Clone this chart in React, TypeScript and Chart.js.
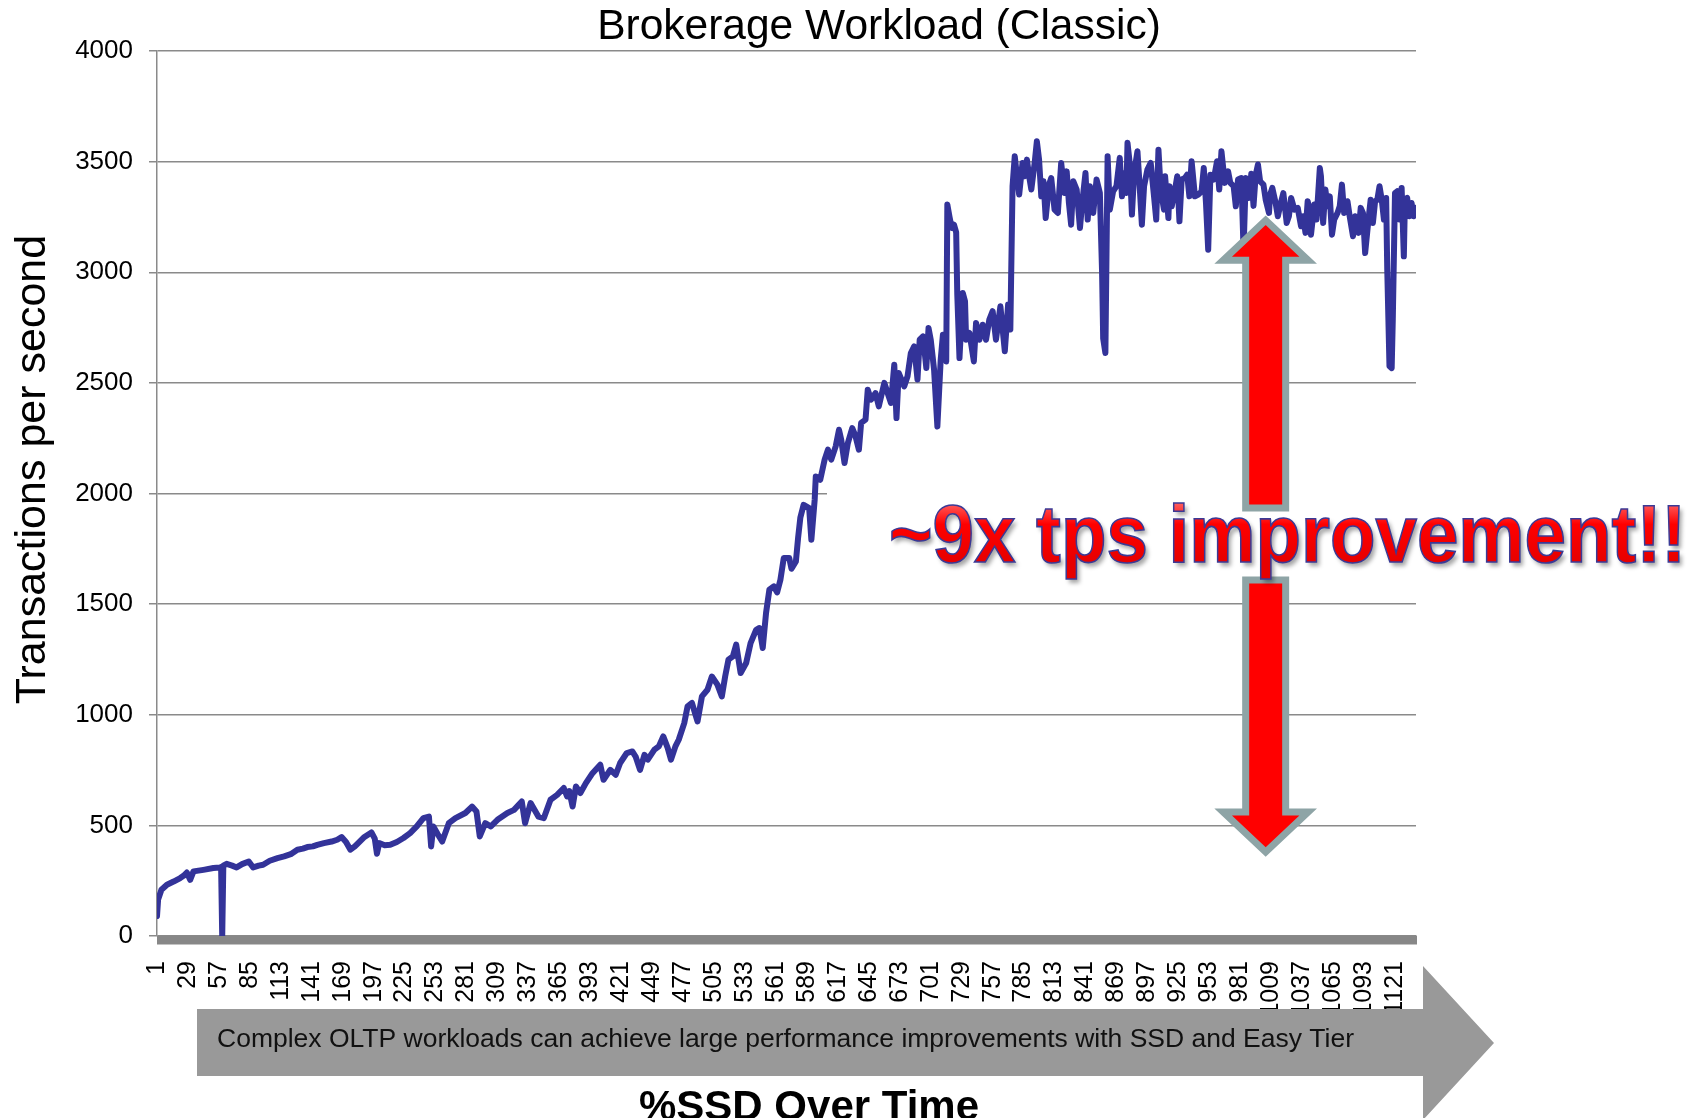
import React, { useEffect, useRef } from "react";
import { Chart, registerables } from "chart.js";

Chart.register(...registerables);

// [sample index, transactions per second]
const rampStart: [number, number][] = [
  [1, 90], [2, 165], [5, 209], [10, 232], [16, 246], [22, 262], [25, 272], [28, 287], [31, 254], [34, 292],
  [43, 299], [52, 307], [58, 310], [59, 312], [60, 0], [61, 318], [64, 326], [69, 318], [73, 310], [78, 325],
  [84, 337], [88, 310], [93, 318], [97, 322], [103, 340], [110, 352], [116, 360], [122, 370], [128, 390], [133, 395],
  [137, 402], [142, 405], [146, 412], [152, 420], [159, 427], [164, 435], [168, 447], [172, 425], [176, 390], [180, 405],
  [183, 420], [188, 445], [195, 468], [198, 440], [200, 372], [202, 420], [207, 410], [212, 412], [218, 425], [224, 443],
  [230, 465],
];

const rampMid: [number, number][] = [
  [236, 495], [242, 533], [247, 540], [249, 405], [251, 495], [255, 460], [259, 427], [265, 510], [271, 533], [280, 556],
  [286, 585], [290, 563], [293, 450], [298, 510], [303, 495], [309, 525], [318, 556], [324, 570], [331, 608], [334, 510],
  [339, 601], [346, 540], [351, 533], [357, 616], [363, 638], [369, 669], [372, 631], [374, 655], [377, 585], [380, 676],
  [384, 646], [389, 691], [395, 736], [402, 774], [405, 706], [411, 751], [416, 729], [420, 782], [426, 827], [431, 834],
  [434, 811], [438, 751],
];

const climb: [number, number][] = [
  [442, 819], [445, 797], [451, 842], [455, 857], [459, 902], [463, 850], [466, 797], [470, 857], [473, 887], [478, 962],
  [481, 1038], [485, 1053], [490, 970], [494, 1083], [499, 1113], [503, 1173], [508, 1136], [512, 1083], [515, 1173], [518, 1249],
  [522, 1264], [525, 1317], [529, 1189], [534, 1234], [538, 1324], [543, 1384], [546, 1392], [549, 1302], [552, 1460], [555, 1565],
  [559, 1580], [562, 1553], [565, 1610], [568, 1708], [573, 1708], [575, 1660], [579, 1693], [581, 1800], [583, 1890], [586, 1949],
  [591, 1934], [593, 1791], [596, 1972], [597, 2077], [601, 2062], [605, 2153], [608, 2198], [611, 2153], [615, 2213], [618, 2288],
  [620, 2243], [623, 2138], [626, 2228], [630, 2296], [633, 2258], [636, 2198], [638, 2319], [642, 2334], [644, 2469], [647, 2424],
  [651, 2454], [654, 2394], [659, 2500], [662, 2454], [665, 2409], [668, 2582], [670, 2341], [672, 2545], [677, 2484], [680, 2530],
  [683, 2635], [686, 2665], [689, 2515], [691, 2695], [694, 2710], [697, 2567], [699, 2748], [701, 2695], [704, 2560], [707, 2303],
  [710, 2605], [712, 2718], [715, 2597],
];

const jump: [number, number][] = [
  [716, 3306], [718, 3250], [720, 3200], [722, 3215], [724, 3180], [725, 2900], [727, 2612], [730, 2906], [732, 2869], [733, 2695],
  [736, 2726], [740, 2597], [742, 2771], [745, 2695], [748, 2763], [751, 2695], [754, 2786], [757, 2824], [760, 2695], [764, 2846],
  [768, 2643], [771, 2854], [773, 2741],
];

const plateau: [number, number][] = [
  [775, 3389], [777, 3524], [779, 3434], [781, 3351], [784, 3494], [786, 3434], [788, 3509], [790, 3434], [792, 3374], [795, 3494],
  [797, 3592], [799, 3509], [801, 3343], [803, 3411], [805, 3245], [808, 3396], [810, 3426], [813, 3283], [816, 3268], [819, 3494],
  [822, 3358], [824, 3456], [826, 3313], [828, 3215], [830, 3411], [833, 3374], [836, 3200], [838, 3313], [841, 3449], [843, 3238],
  [845, 3389], [848, 3268], [851, 3419], [854, 3358], [856, 3000], [857, 2700], [859, 2635], [861, 3524], [863, 3283], [866, 3366],
  [869, 3389], [872, 3517], [874, 3343], [876, 3449], [878, 3358], [879, 3585], [881, 3494], [883, 3261], [885, 3449], [888, 3547],
  [890, 3389], [892, 3215], [894, 3389], [897, 3464], [900, 3494], [903, 3343], [905, 3238], [907, 3554], [909, 3374], [912, 3283],
  [913, 3434], [916, 3245], [917, 3389], [919, 3298], [922, 3374], [924, 3434], [926, 3230], [928, 3419], [931, 3426], [933, 3441],
  [935, 3343], [937, 3502], [940, 3343], [943, 3351], [946, 3366], [948, 3471], [950, 3313], [952, 3102], [954, 3441], [957, 3419],
  [960, 3502], [962, 3374], [964, 3547], [967, 3404], [970, 3456], [972, 3404], [975, 3389], [977, 3298], [979, 3419], [982, 3426],
  [984, 3100], [986, 3426], [989, 3336], [991, 3445], [993, 3300], [995, 3440], [997, 3487], [999, 3411],
];

const tail: [number, number][] = [
  [1002, 3396], [1004, 3328], [1007, 3268], [1008, 3351], [1010, 3381], [1013, 3313], [1015, 3253], [1017, 3298], [1020, 3358], [1023, 3223],
  [1025, 3253], [1027, 3336], [1030, 3283], [1033, 3291], [1036, 3208], [1038, 3253], [1040, 3178], [1042, 3321], [1044, 3276], [1045, 3170],
  [1048, 3306], [1050, 3238], [1053, 3471], [1054, 3434], [1056, 3223], [1058, 3374], [1060, 3298], [1062, 3343], [1064, 3170], [1066, 3238],
  [1069, 3268], [1071, 3298], [1073, 3396], [1075, 3268], [1078, 3321], [1080, 3253], [1083, 3163], [1085, 3253], [1088, 3178], [1090, 3291],
  [1092, 3268], [1094, 3087], [1097, 3238], [1099, 3328], [1101, 3223], [1103, 3321], [1105, 3328], [1107, 3389], [1109, 3328], [1111, 3238],
  [1113, 3336], [1114, 3012], [1116, 2575], [1118, 2567], [1119, 2786], [1121, 3358], [1123, 3366], [1125, 3238], [1127, 3381], [1129, 3072],
  [1130, 3328], [1132, 3336], [1134, 3253], [1136, 3313], [1138, 3253], [1140, 3291],
];

const xTickLabels = [
  1, 29, 57, 85, 113, 141, 169, 197, 225, 253, 281, 309, 337, 365, 393, 421, 449, 477, 505, 533, 561,
  589, 617, 645, 673, 701, 729, 757, 785, 813, 841, 869, 897, 925, 953, 981, 1009, 1037, 1065, 1093, 1121,
];
const yTickValues = [0, 500, 1000, 1500, 2000, 2500, 3000, 3500, 4000];
const xMin = 1;
const xMax = 1140;

const chartTitle = "Brokerage Workload (Classic)";
const yAxisTitle = "Transactions per second";
const xAxisTitle = "%SSD Over Time";
const bannerText =
  "Complex OLTP workloads can achieve large performance improvements with SSD and Easy Tier";
const calloutText = "~9x tps improvement!!";

const FONT = '"Liberation Sans", Arial, Helvetica, sans-serif';

export default function App() {
  const ref = useRef<HTMLCanvasElement | null>(null);

  useEffect(() => {
    document.body.style.margin = "0";
    const canvas = ref.current;
    if (!canvas) return;

    const readings = [...rampStart, ...rampMid, ...climb, ...jump, ...plateau, ...tail];

    const overlay = {
      id: "overlay",
      beforeDatasetsDraw(chart: any) {
        const { ctx, chartArea } = chart;
        ctx.save();
        ctx.fillStyle = "#878787";
        ctx.fillRect(chartArea.left, chartArea.bottom - 0.5, chartArea.right - chartArea.left + 1, 9);
        ctx.restore();
      },
      afterDraw(chart: any) {
        const { ctx } = chart;
        const xs = chart.scales.x;
        const ys = chart.scales.y;
        ctx.save();

        // chart title
        ctx.fillStyle = "#000";
        ctx.font = `42.5px ${FONT}`;
        ctx.textAlign = "center";
        ctx.textBaseline = "alphabetic";
        ctx.fillText(chartTitle, 879, 39);

        // y axis title
        ctx.save();
        ctx.font = `43px ${FONT}`;
        ctx.translate(45, 469.5);
        ctx.rotate(-Math.PI / 2);
        ctx.fillText(yAxisTitle, 0, 0);
        ctx.restore();

        // white panel behind callout text
        ctx.fillStyle = "#ffffff";
        ctx.fillRect(827, 484, 873, 106);

        // double red arrow (drawn as two pieces)
        const cx = xs.getPixelForValue(1004);
        const shaftHalf = 20;
        const headHalf = 42.5;
        const upTip = ys.getPixelForValue(3235);
        const upBase = upTip + 40;
        const upEnd = 508;
        const dnStart = 580;
        const dnTip = ys.getPixelForValue(380);
        const dnBase = dnTip - 40;
        ctx.lineWidth = 7;
        ctx.lineJoin = "miter";
        ctx.strokeStyle = "#8ea4a6";
        ctx.fillStyle = "#ff0000";
        ctx.beginPath();
        ctx.moveTo(cx, upTip);
        ctx.lineTo(cx + headHalf, upBase);
        ctx.lineTo(cx + shaftHalf, upBase);
        ctx.lineTo(cx + shaftHalf, upEnd);
        ctx.lineTo(cx - shaftHalf, upEnd);
        ctx.lineTo(cx - shaftHalf, upBase);
        ctx.lineTo(cx - headHalf, upBase);
        ctx.closePath();
        ctx.fill();
        ctx.stroke();
        ctx.beginPath();
        ctx.moveTo(cx, dnTip);
        ctx.lineTo(cx + headHalf, dnBase);
        ctx.lineTo(cx + shaftHalf, dnBase);
        ctx.lineTo(cx + shaftHalf, dnStart);
        ctx.lineTo(cx - shaftHalf, dnStart);
        ctx.lineTo(cx - shaftHalf, dnBase);
        ctx.lineTo(cx - headHalf, dnBase);
        ctx.closePath();
        ctx.fill();
        ctx.stroke();

        // callout text
        ctx.save();
        ctx.font = `bold 81px ${FONT}`;
        ctx.textAlign = "left";
        ctx.textBaseline = "alphabetic";
        const w = ctx.measureText(calloutText).width;
        const sx = 797 / w;
        ctx.translate(889, 562);
        ctx.scale(sx, 1);
        const grad = ctx.createLinearGradient(0, -58, 0, 0);
        grad.addColorStop(0, "#ff5a5a");
        grad.addColorStop(0.35, "#ff0000");
        grad.addColorStop(1, "#e60000");
        ctx.shadowColor = "rgba(0,0,0,0.35)";
        ctx.shadowOffsetX = 3;
        ctx.shadowOffsetY = 4;
        ctx.shadowBlur = 4;
        ctx.fillStyle = grad;
        ctx.fillText(calloutText, 0, 0);
        ctx.shadowColor = "transparent";
        ctx.lineWidth = 1.6;
        ctx.strokeStyle = "#3a3a96";
        ctx.strokeText(calloutText, 0, 0);
        ctx.restore();

        // bottom banner arrow
        ctx.fillStyle = "#999999";
        ctx.beginPath();
        ctx.moveTo(197, 1009);
        ctx.lineTo(1423, 1009);
        ctx.lineTo(1423, 966);
        ctx.lineTo(1494, 1043);
        ctx.lineTo(1423, 1120);
        ctx.lineTo(1423, 1076);
        ctx.lineTo(197, 1076);
        ctx.closePath();
        ctx.fill();

        ctx.fillStyle = "#111";
        ctx.font = `26.5px ${FONT}`;
        ctx.textAlign = "left";
        ctx.fillText(bannerText, 217, 1047);

        ctx.fillStyle = "#000";
        ctx.font = `bold 42px ${FONT}`;
        ctx.textAlign = "center";
        ctx.fillText(xAxisTitle, 809, 1120);

        ctx.restore();
      },
    };

    const chart = new Chart(canvas, {
      type: "line",
      data: {
        datasets: [
          {
            data: readings.map(([x, y]) => ({ x, y })),
            borderColor: "#333399",
            borderWidth: 6,
            pointRadius: 0,
            tension: 0,
            borderJoinStyle: "round",
            borderCapStyle: "round",
            fill: false,
          },
        ],
      },
      options: {
        responsive: false,
        animation: false,
        devicePixelRatio: 1,
        layout: { padding: { top: 51, right: 284, left: 0, bottom: 0 } },
        plugins: {
          legend: { display: false },
          tooltip: { enabled: false },
          title: { display: false },
        },
        scales: {
          x: {
            type: "linear",
            min: xMin,
            max: xMax,
            grid: { display: false },
            border: { display: false },
            afterBuildTicks: (s: any) => {
              s.ticks = xTickLabels.map((v) => ({ value: v }));
            },
            afterFit: (s: any) => {
              s.height = 182;
            },
            ticks: {
              autoSkip: false,
              maxRotation: 90,
              minRotation: 90,
              padding: 17,
              color: "#000",
              font: { family: FONT, size: 25 },
              callback: (v: any) => String(v),
            },
          },
          y: {
            type: "linear",
            min: 0,
            max: 4000,
            afterBuildTicks: (s: any) => {
              s.ticks = yTickValues.map((v) => ({ value: v }));
            },
            afterFit: (s: any) => {
              s.width = 157;
            },
            grid: { color: "#8a8a8a", lineWidth: 1.5, tickLength: 8, drawTicks: true },
            border: { display: true, color: "#8a8a8a", width: 1.5 },
            ticks: {
              padding: 16,
              color: "#000",
              font: { family: FONT, size: 26 },
              callback: (v: any) => String(v),
            },
          },
        },
      },
      plugins: [overlay],
    } as any);

    return () => chart.destroy();
  }, []);

  return <canvas ref={ref} width={1700} height={1118} style={{ display: "block" }} />;
}
